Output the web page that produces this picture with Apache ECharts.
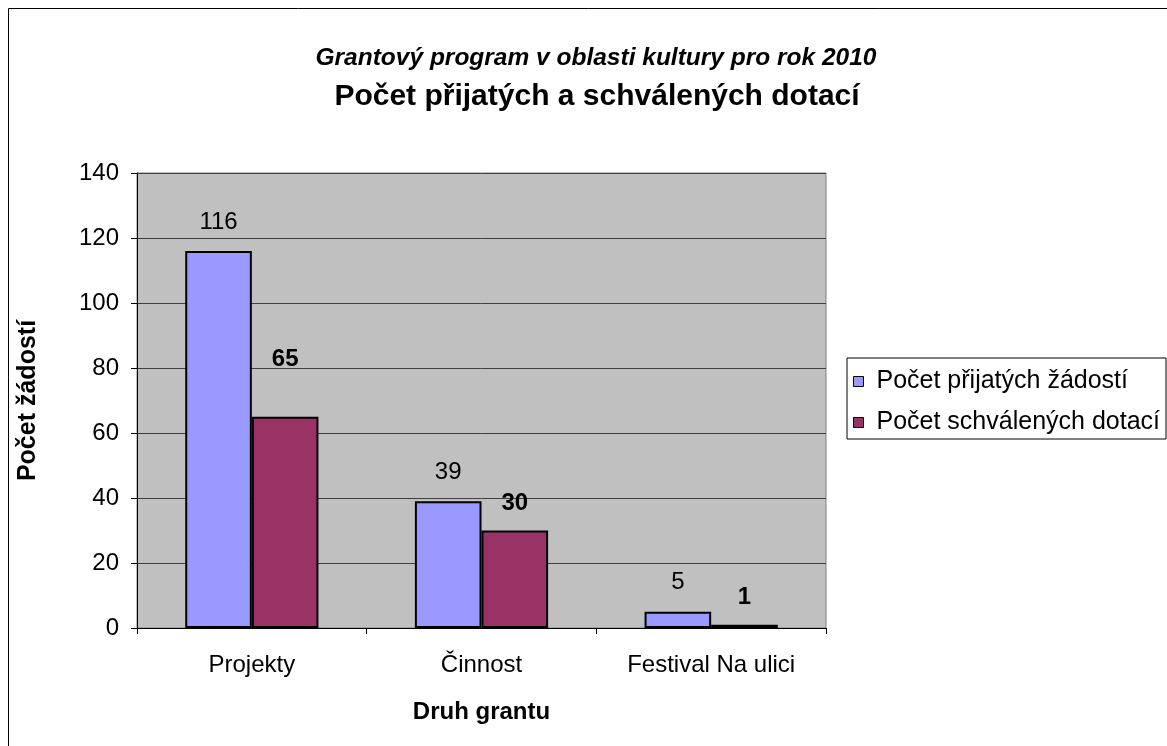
<!DOCTYPE html>
<html><head><meta charset="utf-8">
<script src="https://cdn.jsdelivr.net/npm/echarts@6/dist/echarts.min.js"></script>
<style>html,body{margin:0;padding:0;background:#fff}#c{width:1167px;height:746px}</style>
</head><body><div id="c"></div>
<script>
const categories = ['Projekty', 'Činnost', 'Festival Na ulici'];
const received = [116, 39, 5];
const approved = [65, 30, 1];
const yTicks = {min: 0, max: 140, interval: 20};
const F = 'Liberation Sans, Arial, sans-serif';
const chart = echarts.init(document.getElementById('c'));
chart.setOption({
  animation: false,
  backgroundColor: '#fff',
  textStyle: {fontFamily: F},
  graphic: [{type: 'rect', shape: {x: 8.5, y: 8.5, width: 1200, height: 800}, style: {fill: 'none', stroke: '#000', lineWidth: 1}, z: -1}],
  title: [
    {text: 'Grantový program v oblasti kultury pro rok 2010', left: 591, top: 41, textAlign: 'center',
     textStyle: {fontFamily: F, fontSize: 24.5, fontStyle: 'italic', fontWeight: 'bold', color: '#000'}},
    {text: 'Počet přijatých a schválených dotací', left: 592, top: 77, textAlign: 'center',
     textStyle: {fontFamily: F, fontSize: 30, fontWeight: 'bold', color: '#000'}}
  ],
  legend: {
    orient: 'vertical', left: 847, top: 358, itemWidth: 10, itemHeight: 10, itemGap: 16,
    padding: [11, 6, 4, 6],
    borderColor: '#000', borderWidth: 1, backgroundColor: '#fff',
    icon: 'rect',
    textStyle: {fontFamily: F, fontSize: 25, color: '#000', padding: [0, 0, 0, 8]},
    data: [
      {name: 'Počet přijatých žádostí', itemStyle: {borderColor: '#000', borderWidth: 1}},
      {name: 'Počet schválených dotací', itemStyle: {borderColor: '#000', borderWidth: 1}}
    ]
  },
  grid: {left: 137, right: 341, top: 173, bottom: 118, show: true, backgroundColor: '#C0C0C0', borderColor: '#808080', borderWidth: 1},
  xAxis: {
    type: 'category', data: categories,
    name: 'Druh grantu', nameLocation: 'middle', nameGap: 72,
    nameTextStyle: {fontFamily: F, fontSize: 24, fontWeight: 'bold', color: '#000'},
    axisLine: {lineStyle: {color: '#000', width: 1}},
    axisTick: {show: true, length: 6, lineStyle: {color: '#000'}},
    axisLabel: {fontFamily: F, fontSize: 24, color: '#000', margin: 25}
  },
  yAxis: {
    type: 'value', min: yTicks.min, max: yTicks.max, interval: yTicks.interval,
    name: 'Počet žádostí', nameLocation: 'middle', nameGap: 96, nameRotate: 90,
    nameTextStyle: {fontFamily: F, fontSize: 25, fontWeight: 'bold', color: '#000'},
    axisLine: {show: true, lineStyle: {color: '#000', width: 1}},
    axisTick: {show: true, length: 6, lineStyle: {color: '#000'}},
    axisLabel: {fontFamily: F, fontSize: 24, color: '#000', margin: 18},
    splitLine: {lineStyle: {color: '#404040', width: 1}}
  },
  series: [
    {name: 'Počet přijatých žádostí', type: 'bar', data: received, barGap: '0%', barCategoryGap: '42%',
     itemStyle: {color: '#9999FF', borderColor: '#000', borderWidth: 2},
     label: {show: true, position: 'top', distance: 17, fontFamily: F, fontSize: 24, color: '#000'}},
    {name: 'Počet schválených dotací', type: 'bar',
     data: approved.map((v, i) => i === 0 ? {value: v, label: {distance: 45}} : v),
     itemStyle: {color: '#993366', borderColor: '#000', borderWidth: 2},
     label: {show: true, position: 'top', distance: 15, fontFamily: F, fontSize: 24, fontWeight: 'bold', color: '#000'}}
  ]
});
</script></body></html>
